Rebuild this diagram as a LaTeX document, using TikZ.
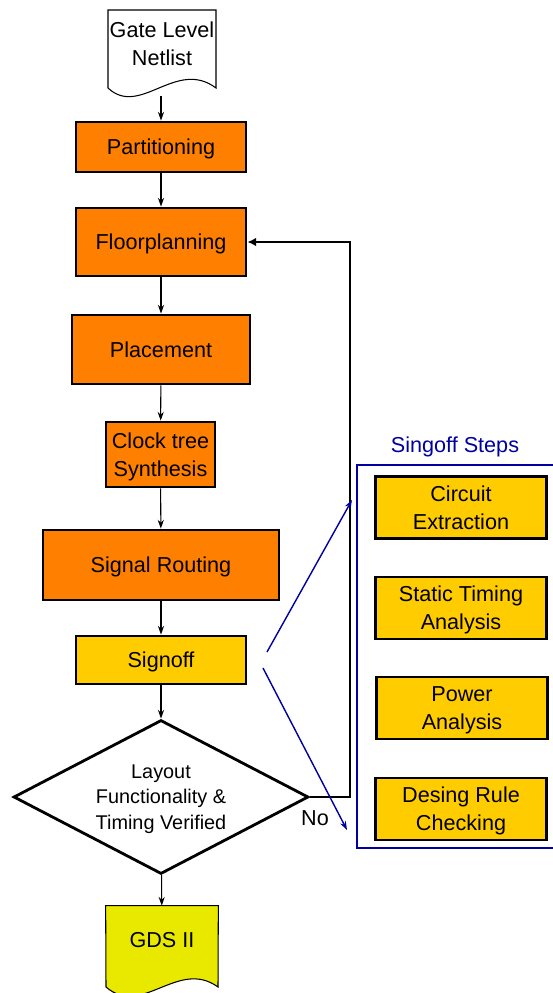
\documentclass[tikz,border=0pt]{standalone}
\usepackage{fontspec}
\setmainfont{Liberation Sans}
\usetikzlibrary{shapes.geometric,arrows.meta}

\definecolor{floworange}{RGB}{255,128,0}
\definecolor{stepyellow}{RGB}{255,204,0}
\definecolor{gdsyellow}{RGB}{233,233,0}
\definecolor{stepblue}{RGB}{0,0,160}

\tikzset{
  flowbox/.style={draw, line width=1.6pt, fill=floworange, align=center, text depth=0pt, minimum width=3.4cm},
  stepbox/.style={draw, line width=1.6pt, fill=stepyellow, align=center, text depth=0pt, minimum width=3.42cm, minimum height=1.24cm},
  flow/.style={line width=0.6pt, -{Stealth[length=5pt,width=3.5pt]}},
  fanline/.style={stepblue, line width=0.8pt, -{Stealth[length=5pt,width=3.5pt]}}
}

\begin{document}
\begin{tikzpicture}[x=0.02cm, y=-0.02cm, font=\fontsize{12.3}{16}\selectfont]
\useasboundingbox (0,0) rectangle (553,993);

\draw[line width=0.6pt, fill=white] (108,10) -- (216,10) -- (216,88) .. controls (176,58) and (140,118) .. (108,88) -- cycle;
\node[align=center] (gate) at (162,44) {Gate Level\\Netlist};
\coordinate (gatefoot) at (161,96);

\node[flowbox, minimum height=1.0cm] (part) at (161,147) {Partitioning};
\node[flowbox, minimum height=1.36cm] (floor) at (161,242) {Floorplanning};
\node[flowbox, minimum width=3.56cm, minimum height=1.38cm] (place) at (161,349.5) {Placement};
\node[flowbox, minimum width=2.14cm, minimum height=1.3cm] (cts) at (160.5,454.5) {Clock tree\\Synthesis};
\node[flowbox, minimum width=4.72cm, minimum height=1.4cm] (route) at (161,565) {Signal Routing};
\node[flowbox, fill=stepyellow, minimum height=0.96cm] (signoff) at (161,660) {Signoff};
\node[draw, diamond, line width=1.6pt, fill=white, aspect=1.9, inner sep=1pt, align=center, text depth=0pt,
  minimum width=5.9cm, minimum height=3.08cm, font=\fontsize{11.3}{14.5}\selectfont] (verify) at (161,797)
  {Layout\\Functionality \&\\Timing Verified};

\node[minimum width=2.24cm, minimum height=1.36cm] (gds) at (162,940) {};
\draw[line width=0.6pt, fill=gdsyellow] (gds.north west) -- (gds.north east) -- (218,987) .. controls (178,958) and (142,1018) .. (106,987) -- cycle;
\node[text depth=0pt] at (gds.center) {GDS II};

\draw[flow] (gatefoot) -- (part);
\draw[flow] (part) -- (floor);
\draw[flow] (floor) -- (place);
\draw[flow] (place) -- (cts);
\draw[flow] (cts) -- (route);
\draw[flow] (route) -- (signoff);
\draw[flow] (signoff) -- (verify);
\draw[flow] (verify) -- (gds);

\draw[line width=1.4pt, -{Latex[length=5pt,width=5pt]}] (verify.east) -- ++(40,0) |- (floor.east);
\node (no) at (315,818) {No};

\node[draw=stepblue, line width=1.1pt, minimum width=4.02cm, minimum height=7.66cm] (frame) at (457.5,656.5) {};
\node[text=stepblue] (sotitle) at (455,447) {Singoff Steps};
\node[stepbox] (extract) at (461,507.5) {Circuit\\Extraction};
\node[stepbox] (sta) at (461,608) {Static Timing\\Analysis};
\node[stepbox] (power) at (462,708) {Power\\Analysis};
\node[stepbox] (drc) at (461,809) {Desing Rule\\Checking};

\coordinate (fanA) at (267,652);
\coordinate (fanAend) at (352,500);
\coordinate (fanB) at (263,668);
\coordinate (fanBend) at (347,830);
\draw[fanline] (fanA) -- (fanAend);
\draw[fanline] (fanB) -- (fanBend);
\end{tikzpicture}
\end{document}
